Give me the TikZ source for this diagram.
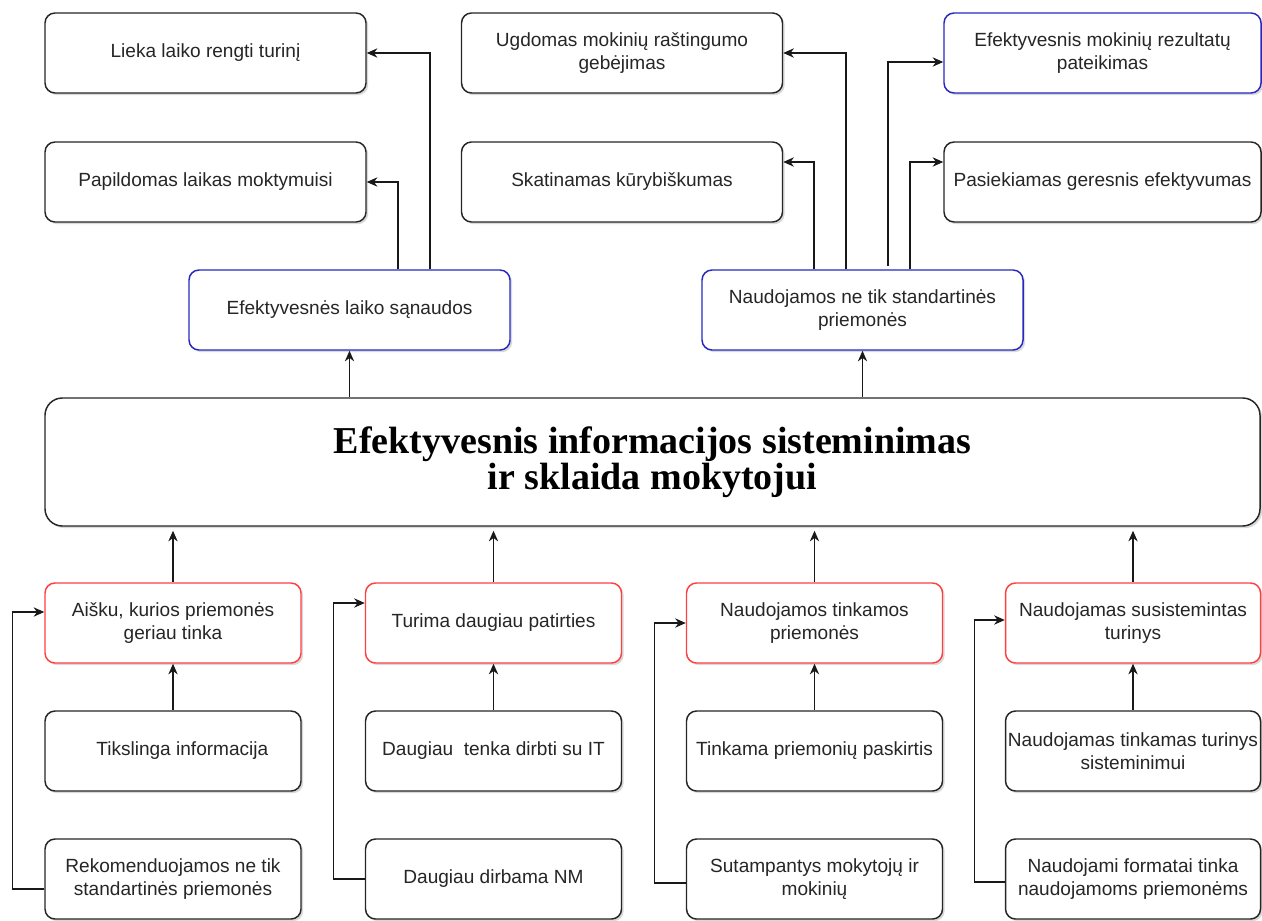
\documentclass[tikz,border=0pt]{standalone}
\usepackage{fontspec}
\setmainfont{Liberation Sans}
\newfontfamily\titlefont{Liberation Serif}
\usetikzlibrary{arrows.meta,calc,shadows}
\definecolor{edgeblue}{RGB}{40,40,190}
\definecolor{edgered}{RGB}{255,64,64}

\begin{document}
\begin{tikzpicture}[x=0.75pt,y=-0.75pt]
\tikzstyle{every node}+=[inner sep=0pt]
\tikzstyle{box}=[draw=black!85, line width=1.1pt, rounded corners=7.5pt, fill=white, align=center,
  minimum width=240.75pt, minimum height=60pt, text=black!85,
  drop shadow={shadow xshift=1.6pt,shadow yshift=-1.6pt,opacity=0.3},
  font=\fontsize{14.3}{17}\selectfont]
\tikzstyle{smallbox}=[box, minimum width=192pt]
\tikzstyle{bluebox}=[draw=edgeblue]
\tikzstyle{redbox}=[draw=edgered]
\tikzstyle{link}=[-{Stealth[length=8pt,width=7pt]}, line width=0.9pt, black!90]
\useasboundingbox (0,0) rectangle (1262,920);

\node[box] (lieka) at (205.5,53) {Lieka laiko rengti turinį};
\node[box] (papild) at (205.5,182) {Papildomas laikas moktymuisi};
\node[box,bluebox] (sanaud) at (349.5,310) {Efektyvesnės laiko sąnaudos};
\node[box] (ugdom) at (622,53) {Ugdomas mokinių raštingumo\\gebėjimas};
\node[box] (skatin) at (622,182) {Skatinamas kūrybiškumas};
\node[box,bluebox,minimum width=237.75pt] (efrez) at (1102.5,53) {Efektyvesnis mokinių rezultatų\\pateikimas};
\node[box,minimum width=237.75pt] (pasiek) at (1102.5,182) {Pasiekiamas geresnis efektyvumas};
\node[box,bluebox] (nestd) at (862.5,310) {Naudojamos ne tik standartinės\\priemonės};

\node[box, minimum width=911.25pt, minimum height=96pt, rounded corners=13pt,
  font=\titlefont\bfseries\fontsize{28.5}{25.5}\selectfont, text=black] (main) at (652.5,462)
  {Efektyvesnis informacijos sisteminimas\\ir sklaida mokytojui};

\node[smallbox,redbox] (a1) at (173,623) {Aišku, kurios priemonės\\geriau tinka};
\node[smallbox] (a2) at (173,751) {\hspace{14pt}Tikslinga informacija};
\node[smallbox] (a3) at (173,879) {Rekomenduojamos ne tik\\standartinės priemonės};
\node[smallbox,redbox] (b1) at (493.5,623) {Turima daugiau patirties};
\node[smallbox] (b2) at (493.5,751) {Daugiau\ \ tenka dirbti su IT};
\node[smallbox] (b3) at (493.5,879) {Daugiau dirbama NM};
\node[smallbox,redbox] (c1) at (814.5,623) {Naudojamos tinkamos\\priemonės};
\node[smallbox] (c2) at (814.5,751) {Tinkama priemonių paskirtis};
\node[smallbox] (c3) at (814.5,879) {Sutampantys mokytojų ir\\mokinių};
\node[smallbox,redbox,minimum width=191.25pt] (d1) at (1133,623) {Naudojamas susistemintas\\turinys};
\node[smallbox,minimum width=191.25pt] (d2) at (1133,751) {Naudojamas tinkamas turinys\\sisteminimui};
\node[smallbox,minimum width=191.25pt] (d3) at (1133,879) {Naudojami formatai tinka\\naudojamoms priemonėms};

\draw[link] ($(sanaud.north)+(48.5,0)$) |- (papild.east);
\draw[link] ($(sanaud.north)+(80.5,0)$) |- (lieka.east);
\draw[link] ($(nestd.north)+(-48.5,0)$) |- ($(skatin.east)+(0,-20)$);
\draw[link] ($(nestd.north)+(-16.5,0)$) |- (ugdom.east);
\draw[link] ($(nestd.north)+(25.5,-3)$) |- ($(efrez.west)+(0,9)$);
\draw[link] ($(nestd.north)+(47.5,0)$) |- ($(pasiek.west)+(0,-20)$);
\draw[link] (main.north -| sanaud.south) -- (sanaud.south);
\draw[link] (main.north -| nestd.south) -- (nestd.south);

\draw[link, shorten >=3pt] (a1.north) -- (a1.north |- main.south);
\draw[link, shorten >=3pt] (b1.north) -- (b1.north |- main.south);
\draw[link, shorten >=3pt] (c1.north) -- (c1.north |- main.south);
\draw[link, shorten >=3pt] (d1.north) -- (d1.north |- main.south);
\draw[link] (a2) -- (a1);
\draw[link] (b2) -- (b1);
\draw[link] (c2) -- (c1);
\draw[link] (d2) -- (d1);

\draw[link] ($(a3.west)+(0,10)$) -- ++(-32,0) |- ($(a1.west)+(0,-11)$);
\draw[link] (b3.west) -- ++(-31,0) |- ($(b1.west)+(0,-20)$);
\draw[link] ($(c3.west)+(0,4)$) -- ++(-31,0) |- (c1.west);
\draw[link] ($(d3.west)+(0,3)$) -- ++(-30,0) |- ($(d1.west)+(0,-3)$);
\end{tikzpicture}
\end{document}
